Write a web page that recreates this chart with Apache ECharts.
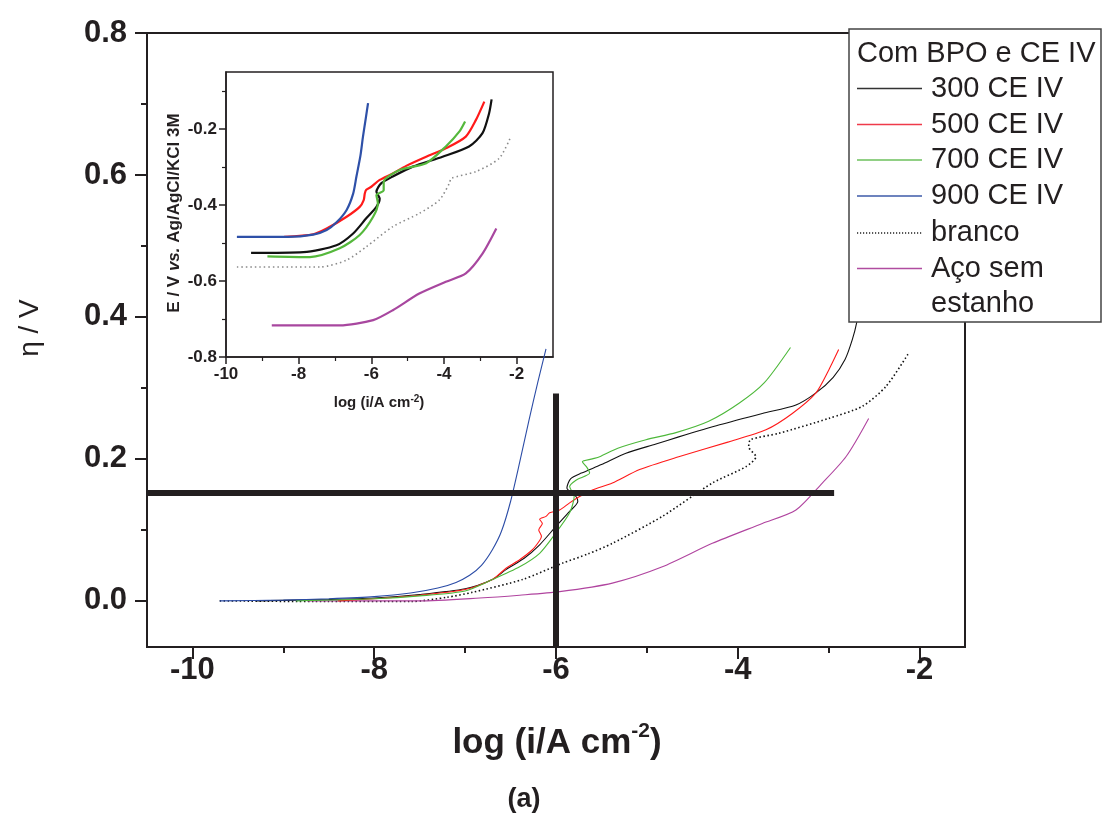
<!DOCTYPE html>
<html>
<head>
<meta charset="utf-8">
<script src="https://cdn.jsdelivr.net/npm/echarts@6/dist/echarts.min.js"></script>
<style>
html,body{margin:0;padding:0;background:#fff;}
#c{width:1103px;height:814px;}
</style>
</head>
<body>
<div id="c"></div>
<script>
// ---------- DATA (main plot: eta / V vs log i) ----------
const mainXTicks = [-10, -8, -6, -4, -2];
const mainXMinor = [-9, -7, -5, -3];
const mainYTicks = [0, 0.2, 0.4, 0.6, 0.8];
const mainYMinor = [0.1, 0.3, 0.5, 0.7];

const main300 = [[-9.3,0.000],[-8.5,0.002],[-8.0,0.004],[-7.5,0.009],[-7.0,0.017],[-6.7,0.030],[-6.55,0.044],[-6.35,0.060],[-6.18,0.079],[-6.0,0.105],[-5.85,0.126],[-5.76,0.140],[-5.78,0.147],[-5.88,0.159],[-5.84,0.172],[-5.72,0.180],[-5.5,0.192],[-5.23,0.208],[-4.9,0.221],[-4.65,0.231],[-4.2,0.248],[-3.73,0.264],[-3.36,0.276],[-3.14,0.293],[-2.95,0.315],[-2.82,0.340],[-2.74,0.368],[-2.69,0.393],[-2.66,0.420]];
const main500 = [[-8.4,0.000],[-8.0,0.003],[-7.5,0.008],[-7.0,0.016],[-6.7,0.030],[-6.55,0.046],[-6.4,0.058],[-6.26,0.072],[-6.18,0.085],[-6.16,0.091],[-6.19,0.100],[-6.15,0.109],[-6.18,0.115],[-6.11,0.119],[-6.07,0.124],[-5.96,0.128],[-5.85,0.138],[-5.74,0.147],[-5.6,0.156],[-5.38,0.166],[-5.08,0.185],[-4.65,0.203],[-4.10,0.224],[-3.69,0.241],[-3.40,0.264],[-3.14,0.293],[-3.0,0.325],[-2.89,0.354]];
const main700 = [[-8.86,0.000],[-8.0,0.003],[-7.5,0.007],[-7.0,0.014],[-6.7,0.030],[-6.4,0.048],[-6.18,0.067],[-6.0,0.096],[-5.85,0.124],[-5.80,0.147],[-5.85,0.161],[-5.78,0.170],[-5.63,0.180],[-5.66,0.188],[-5.71,0.196],[-5.6,0.200],[-5.52,0.203],[-5.32,0.215],[-5.01,0.227],[-4.68,0.237],[-4.32,0.253],[-3.99,0.278],[-3.71,0.307],[-3.42,0.357]];
const main900 = [[-9.7,0.000],[-9.0,0.001],[-8.5,0.003],[-8.0,0.006],[-7.6,0.011],[-7.3,0.018],[-7.1,0.026],[-6.95,0.036],[-6.82,0.050],[-6.7,0.072],[-6.6,0.098],[-6.5,0.140],[-6.4,0.195],[-6.3,0.253],[-6.2,0.308],[-6.11,0.355]];
const mainBranco = [[-9.7,0.000],[-8.5,-0.001],[-7.6,-0.001],[-7.2,0.005],[-6.92,0.012],[-6.37,0.030],[-5.93,0.053],[-5.65,0.066],[-5.38,0.081],[-4.83,0.119],[-4.28,0.166],[-3.91,0.189],[-3.80,0.203],[-3.88,0.217],[-3.86,0.227],[-3.55,0.236],[-3.0,0.257],[-2.63,0.274],[-2.37,0.302],[-2.12,0.349]];
const mainAco = [[-8.74,0.000],[-7.5,0.000],[-6.84,0.004],[-6.4,0.008],[-5.96,0.013],[-5.38,0.025],[-4.83,0.048],[-4.28,0.081],[-3.73,0.109],[-3.36,0.128],[-3.07,0.166],[-2.81,0.203],[-2.56,0.257]];
const crossV = [[-6, -0.065], [-6, 0.292]];
const crossH = [[-10.5, 0.152], [-2.94, 0.152]];

// ---------- DATA (inset: E vs log i) ----------
const insetXTicks = [-10, -8, -6, -4, -2];
const insetXMinor = [-9, -7, -5, -3];
const insetYTicks = [-0.8, -0.6, -0.4, -0.2];
const insetYMinor = [-0.7, -0.5, -0.3, -0.1];

const inset900 = [[-9.7,-0.484],[-8.3,-0.484],[-7.6,-0.478],[-7.23,-0.466],[-6.95,-0.445],[-6.68,-0.413],[-6.5,-0.370],[-6.41,-0.325],[-6.30,-0.270],[-6.23,-0.220],[-6.15,-0.170],[-6.09,-0.132]];
const inset500 = [[-8.4,-0.484],[-7.6,-0.477],[-7.23,-0.462],[-6.68,-0.431],[-6.32,-0.405],[-6.21,-0.387],[-6.18,-0.370],[-6.14,-0.360],[-6.0,-0.352],[-5.77,-0.334],[-5.41,-0.317],[-5.04,-0.297],[-4.49,-0.273],[-3.95,-0.251],[-3.40,-0.220],[-3.12,-0.176],[-2.89,-0.128]];
const inset300 = [[-9.31,-0.526],[-7.87,-0.524],[-6.96,-0.506],[-6.50,-0.475],[-6.14,-0.435],[-5.86,-0.405],[-5.77,-0.383],[-5.86,-0.365],[-5.73,-0.343],[-5.41,-0.325],[-4.86,-0.299],[-4.04,-0.273],[-3.31,-0.246],[-2.94,-0.211],[-2.76,-0.159],[-2.69,-0.122]];
const inset700 = [[-8.86,-0.535],[-7.69,-0.537],[-6.87,-0.514],[-6.32,-0.479],[-5.95,-0.431],[-5.82,-0.396],[-5.86,-0.374],[-5.66,-0.361],[-5.66,-0.339],[-5.22,-0.308],[-4.49,-0.290],[-3.95,-0.246],[-3.58,-0.207],[-3.42,-0.180]];
const insetBranco = [[-9.7,-0.563],[-7.4,-0.563],[-6.68,-0.545],[-6.14,-0.510],[-5.41,-0.457],[-4.68,-0.422],[-4.13,-0.387],[-3.85,-0.343],[-3.80,-0.330],[-3.12,-0.312],[-2.48,-0.277],[-2.16,-0.220]];
const insetAco = [[-8.74,-0.717],[-6.87,-0.717],[-5.95,-0.703],[-5.41,-0.677],[-4.68,-0.633],[-3.95,-0.602],[-3.40,-0.580],[-2.94,-0.528],[-2.56,-0.462]];

// ---------- LEGEND ----------
const legendTitle = 'Com BPO e CE IV';
const legendNames = ['300 CE IV', '500 CE IV', '700 CE IV', '900 CE IV', 'branco', 'Aço sem', 'estanho'];

// ---------- STYLE ----------
const INK = '#231f20';
const FONT = '"Liberation Sans", Arial, Helvetica, sans-serif';
const colMain = {c300:'#111111', c500:'#ff1a1a', c700:'#4db83a', c900:'#2b4ca6', branco:'#111111', aco:'#b0449f'};
const colInset = {c300:'#111111', c500:'#ff1a1a', c700:'#55b83c', c900:'#2e50a8', branco:'#8a8a8a', aco:'#a8479f'};

const MG = {left:147, top:33, width:818, height:614};
const IG = {left:226, top:72, width:327, height:285};

function ax(extra){ return Object.assign({type:'value', splitLine:{show:false}, minorTick:{show:false}}, extra); }

const chart = echarts.init(document.getElementById('c'), null, {renderer:'canvas'});

function line(name, data, color, width, xi, yi, type, z){
  return {
    name, type:'line', data, xAxisIndex:xi, yAxisIndex:yi, showSymbol:false, symbol:'none',
    smooth:0.25, animation:false, z: z||2,
    lineStyle:{color, width, type: type||'solid'}
  };
}

const legendRows = [
  {y:88.5, color:'#333333', dash:null},
  {y:124.5, color:'#ef3a4a', dash:null},
  {y:160, color:'#6cc05c', dash:null},
  {y:196, color:'#3c5aa8', dash:null},
  {y:233, color:'#222222', dash:[1.2,1.8]},
  {y:268.5, color:'#b04ca0', dash:null},
  {y:303.5, color:null, dash:null}
];
const LBOX = {x:849, y:29, w:252, h:293};
const graphics = [
  {type:'rect', z:100, shape:{x:LBOX.x, y:LBOX.y, width:LBOX.w, height:LBOX.h}, style:{fill:'#fff', stroke:'#444', lineWidth:1.5}},
  {type:'text', z:101, x:857, y:53.5, style:{text:legendTitle, font:'29px '+FONT, fill:INK, verticalAlign:'middle', align:'left'}}
];
legendRows.forEach((r,i)=>{
  if(r.color){
    graphics.push({type:'line', z:101, shape:{x1:857, y1:r.y, x2:922, y2:r.y}, style:{stroke:r.color, lineWidth:1.3, lineDash:r.dash||null}});
  }
  graphics.push({type:'text', z:101, x:931, y:r.y, style:{text:legendNames[i], font:'29px '+FONT, fill:INK, verticalAlign:'middle', align:'left'}});
});
// axis titles
graphics.push({type:'text', z:50, x:557, y:743, style:{
  text:'log (i/A cm{sup|-2})', font:'bold 35px '+FONT, fill:INK, align:'center', verticalAlign:'middle',
  rich:{sup:{font:'bold 21px '+FONT, fill:INK, verticalAlign:'top', padding:[0,0,24,0]}}
}});
graphics.push({type:'text', z:50, x:524, y:800, style:{text:'(a)', font:'bold 27px '+FONT, fill:INK, align:'center', verticalAlign:'middle'}});
graphics.push({type:'text', z:50, x:30, y:328, rotation:Math.PI/2, style:{text:'η / V', font:'28px '+FONT, fill:INK, align:'center', verticalAlign:'middle'}});
graphics.push({type:'text', z:50, x:174, y:213, rotation:Math.PI/2, style:{
  text:'E / V {it|vs.} Ag/AgCl/KCl 3M', font:'bold 17px '+FONT, fill:INK, align:'center', verticalAlign:'middle',
  rich:{it:{font:'italic bold 17px '+FONT, fill:INK}}
}});
graphics.push({type:'text', z:50, x:379, y:403, style:{
  text:'log (i/A cm{sup|-2})', font:'bold 15px '+FONT, fill:INK, align:'center', verticalAlign:'middle',
  rich:{sup:{font:'bold 10px '+FONT, fill:INK, verticalAlign:'top', padding:[0,0,8,0]}}
}});

const axLine = {show:true, onZero:false, lineStyle:{color:INK, width:2}};
const axLineI = {show:true, onZero:false, lineStyle:{color:INK, width:1.5}};
const noLine = {show:false, onZero:false};

const option = {
  animation:false,
  backgroundColor:'#ffffff',
  grid:[
    Object.assign({show:true, borderColor:INK, borderWidth:2, backgroundColor:'transparent'}, MG),
    Object.assign({show:true, borderColor:INK, borderWidth:1.5, backgroundColor:'transparent'}, IG)
  ],
  xAxis:[
    ax({gridIndex:0, min:-10.5, max:-1.5, position:'bottom', axisLine:axLine,
      axisTick:{show:true, length:12, customValues:mainXTicks, lineStyle:{color:INK, width:2}},
      axisLabel:{show:true, customValues:mainXTicks, margin:8, color:INK, fontSize:31, fontWeight:'bold', fontFamily:FONT}}),
    ax({gridIndex:0, min:-10.5, max:-1.5, position:'bottom', axisLine:noLine,
      axisTick:{show:true, length:6, customValues:mainXMinor, lineStyle:{color:INK, width:2}},
      axisLabel:{show:false}}),
    ax({gridIndex:1, min:-10, max:-1, position:'bottom', axisLine:axLineI,
      axisTick:{show:true, length:7, customValues:insetXTicks, lineStyle:{color:INK, width:1.5}},
      axisLabel:{show:true, customValues:insetXTicks, margin:9, color:INK, fontSize:17, fontWeight:'bold', fontFamily:FONT}}),
    ax({gridIndex:1, min:-10, max:-1, position:'bottom', axisLine:noLine,
      axisTick:{show:true, length:4, customValues:insetXMinor, lineStyle:{color:INK, width:1.2}},
      axisLabel:{show:false}})
  ],
  yAxis:[
    ax({gridIndex:0, min:-0.065, max:0.8, position:'left', axisLine:axLine,
      axisTick:{show:true, length:12, customValues:mainYTicks, lineStyle:{color:INK, width:2}},
      axisLabel:{show:true, customValues:mainYTicks, margin:20, color:INK, fontSize:31, fontWeight:'bold', fontFamily:FONT,
        formatter:v=>v.toFixed(1)}}),
    ax({gridIndex:0, min:-0.065, max:0.8, position:'left', axisLine:noLine,
      axisTick:{show:true, length:6, customValues:mainYMinor, lineStyle:{color:INK, width:2}},
      axisLabel:{show:false}}),
    ax({gridIndex:1, min:-0.8, max:-0.05, position:'left', axisLine:axLineI,
      axisTick:{show:true, length:7, customValues:insetYTicks, lineStyle:{color:INK, width:1.5}},
      axisLabel:{show:true, customValues:insetYTicks, margin:9, color:INK, fontSize:17, fontWeight:'bold', fontFamily:FONT,
        formatter:v=>v.toFixed(1)}}),
    ax({gridIndex:1, min:-0.8, max:-0.05, position:'left', axisLine:noLine,
      axisTick:{show:true, length:4, customValues:insetYMinor, lineStyle:{color:INK, width:1.2}},
      axisLabel:{show:false}})
  ],
  series:[
    line('ins-branco', insetBranco, colInset.branco, 1.6, 2, 2, [1.5,3]),
    line('ins-aco', insetAco, colInset.aco, 2.2, 2, 2),
    line('ins-300', inset300, colInset.c300, 2.2, 2, 2),
    line('ins-500', inset500, colInset.c500, 2.2, 2, 2),
    line('ins-700', inset700, colInset.c700, 2.2, 2, 2),
    line('ins-900', inset900, colInset.c900, 2.2, 2, 2),
    line('branco', mainBranco, colMain.branco, 1.6, 0, 0, [1.5,2.5], 3),
    line('aco', mainAco, colMain.aco, 1.1, 0, 0, null, 3),
    line('300', main300, colMain.c300, 1.1, 0, 0, null, 3),
    line('500', main500, colMain.c500, 1.1, 0, 0, null, 3),
    line('700', main700, colMain.c700, 1.1, 0, 0, null, 3),
    line('900', main900, colMain.c900, 1.1, 0, 0, null, 3),
    {name:'crossV', type:'line', data:crossV, xAxisIndex:0, yAxisIndex:0, showSymbol:false, symbol:'none', z:4,
      lineStyle:{color:INK, width:6}, animation:false},
    {name:'crossH', type:'line', data:crossH, xAxisIndex:0, yAxisIndex:0, showSymbol:false, symbol:'none', z:4,
      lineStyle:{color:INK, width:6}, animation:false}
  ],
  graphic: graphics
};
chart.setOption(option);
</script>
</body>
</html>
